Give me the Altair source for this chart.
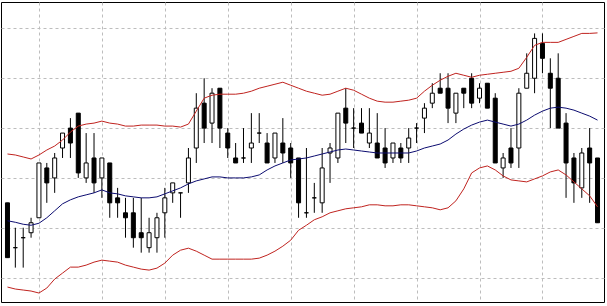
import altair as alt
import pandas as pd

# OHLC prices (one entry per candle)
opens = [1.2915, 1.2906, 1.2908, 1.2909, 1.2912, 1.2922, 1.2920, 1.2926, 1.2930, 1.2933,
         1.2920, 1.2924, 1.2920, 1.2923, 1.2916, 1.2913, 1.2913, 1.2909, 1.2906, 1.2908,
         1.2913, 1.2917, 1.2917, 1.2919, 1.2926, 1.2935, 1.2931, 1.2938, 1.2929, 1.2924,
         1.2924, 1.2926, 1.2929, 1.2927, 1.2924, 1.2927, 1.2926, 1.2924, 1.2913, 1.2916,
         1.2915, 1.2925, 1.2924, 1.2934, 1.2930, 1.2931, 1.2927, 1.2927, 1.2926, 1.2924,
         1.2926, 1.2926, 1.2930, 1.2932, 1.2935, 1.2938, 1.2938, 1.2933, 1.2938, 1.2940,
         1.2936, 1.2939, 1.2936, 1.2922, 1.2926, 1.2926, 1.2938, 1.2940, 1.2947, 1.2941,
         1.2940, 1.2931, 1.2924, 1.2918, 1.2926, 1.2924]
highs = [1.2915, 1.2910, 1.2910, 1.2912, 1.2923, 1.2923, 1.2925, 1.2929, 1.2932, 1.2933,
         1.2929, 1.2929, 1.2924, 1.2923, 1.2918, 1.2916, 1.2916, 1.2916, 1.2912, 1.2913,
         1.2918, 1.2919, 1.2917, 1.2926, 1.2937, 1.2940, 1.2938, 1.2938, 1.2930, 1.2927,
         1.2930, 1.2933, 1.2933, 1.2929, 1.2929, 1.2932, 1.2927, 1.2924, 1.2926, 1.2919,
         1.2926, 1.2927, 1.2933, 1.2938, 1.2934, 1.2934, 1.2934, 1.2933, 1.2930, 1.2927,
         1.2927, 1.2930, 1.2931, 1.2935, 1.2939, 1.2941, 1.2941, 1.2937, 1.2938, 1.2941,
         1.2939, 1.2939, 1.2937, 1.2925, 1.2930, 1.2938, 1.2945, 1.2949, 1.2949, 1.2944,
         1.2945, 1.2933, 1.2925, 1.2926, 1.2930, 1.2924]
lows = [1.2904, 1.2902, 1.2902, 1.2908, 1.2912, 1.2915, 1.2917, 1.2924, 1.2924, 1.2920,
        1.2919, 1.2917, 1.2916, 1.2912, 1.2912, 1.2908, 1.2906, 1.2905, 1.2905, 1.2905,
        1.2908, 1.2915, 1.2912, 1.2917, 1.2923, 1.2927, 1.2927, 1.2926, 1.2924, 1.2923,
        1.2923, 1.2923, 1.2927, 1.2923, 1.2923, 1.2923, 1.2920, 1.2912, 1.2912, 1.2913,
        1.2913, 1.2919, 1.2923, 1.2927, 1.2926, 1.2929, 1.2926, 1.2924, 1.2922, 1.2923,
        1.2923, 1.2923, 1.2927, 1.2929, 1.2934, 1.2937, 1.2931, 1.2931, 1.2934, 1.2934,
        1.2935, 1.2934, 1.2923, 1.2920, 1.2922, 1.2922, 1.2938, 1.2937, 1.2941, 1.2930,
        1.2930, 1.2916, 1.2915, 1.2916, 1.2915, 1.2911]
closes = [1.2904, 1.2906, 1.2908, 1.2911, 1.2923, 1.2919, 1.2924, 1.2929, 1.2927, 1.2921,
          1.2923, 1.2919, 1.2924, 1.2915, 1.2915, 1.2912, 1.2908, 1.2908, 1.2909, 1.2912,
          1.2916, 1.2919, 1.2917, 1.2924, 1.2934, 1.2930, 1.2937, 1.2930, 1.2926, 1.2923,
          1.2924, 1.2927, 1.2929, 1.2923, 1.2929, 1.2925, 1.2923, 1.2915, 1.2913, 1.2916,
          1.2922, 1.2926, 1.2933, 1.2931, 1.2930, 1.2929, 1.2929, 1.2924, 1.2923, 1.2927,
          1.2924, 1.2928, 1.2930, 1.2934, 1.2937, 1.2937, 1.2934, 1.2937, 1.2937, 1.2935,
          1.2938, 1.2934, 1.2923, 1.2924, 1.2923, 1.2937, 1.2941, 1.2948, 1.2944, 1.2938,
          1.2930, 1.2923, 1.2919, 1.2925, 1.2923, 1.2911]

# Bollinger bands
upper = [1.29248, 1.29246, 1.29242, 1.29238, 1.29246, 1.29256, 1.29264, 1.29276, 1.29292, 1.29304,
         1.29308, 1.29310, 1.29314, 1.29310, 1.29308, 1.29304, 1.29304, 1.29306, 1.29306, 1.29306,
         1.29304, 1.29304, 1.29302, 1.29308, 1.29334, 1.29360, 1.29366, 1.29368, 1.29368, 1.29368,
         1.29370, 1.29374, 1.29380, 1.29384, 1.29388, 1.29392, 1.29386, 1.29380, 1.29374, 1.29370,
         1.29366, 1.29368, 1.29374, 1.29380, 1.29376, 1.29368, 1.29360, 1.29354, 1.29352, 1.29352,
         1.29354, 1.29356, 1.29360, 1.29374, 1.29386, 1.29396, 1.29404, 1.29410, 1.29406, 1.29402,
         1.29406, 1.29408, 1.29410, 1.29412, 1.29414, 1.29420, 1.29442, 1.29466, 1.29472, 1.29472,
         1.29472, 1.29478, 1.29484, 1.29490, 1.29490, 1.29491]
middle = [1.29114, 1.29111, 1.29107, 1.29105, 1.29109, 1.29120, 1.29134, 1.29148, 1.29156, 1.29162,
          1.29166, 1.29170, 1.29176, 1.29170, 1.29168, 1.29164, 1.29162, 1.29160, 1.29160, 1.29162,
          1.29168, 1.29174, 1.29180, 1.29188, 1.29194, 1.29198, 1.29202, 1.29202, 1.29200, 1.29200,
          1.29200, 1.29202, 1.29206, 1.29216, 1.29224, 1.29230, 1.29236, 1.29238, 1.29240, 1.29244,
          1.29248, 1.29252, 1.29256, 1.29258, 1.29256, 1.29254, 1.29252, 1.29250, 1.29250, 1.29250,
          1.29250, 1.29250, 1.29254, 1.29260, 1.29264, 1.29268, 1.29276, 1.29288, 1.29298, 1.29306,
          1.29312, 1.29316, 1.29312, 1.29308, 1.29304, 1.29308, 1.29316, 1.29326, 1.29334, 1.29340,
          1.29342, 1.29340, 1.29336, 1.29330, 1.29324, 1.29316]
lower = [1.28981, 1.28977, 1.28975, 1.28973, 1.28969, 1.28979, 1.28997, 1.29009, 1.29021, 1.29021,
         1.29025, 1.29031, 1.29035, 1.29033, 1.29031, 1.29025, 1.29021, 1.29017, 1.29015, 1.29019,
         1.29029, 1.29045, 1.29055, 1.29059, 1.29053, 1.29045, 1.29037, 1.29037, 1.29037, 1.29037,
         1.29037, 1.29037, 1.29039, 1.29045, 1.29053, 1.29063, 1.29075, 1.29095, 1.29105, 1.29116,
         1.29122, 1.29130, 1.29134, 1.29138, 1.29140, 1.29142, 1.29146, 1.29146, 1.29144, 1.29144,
         1.29146, 1.29146, 1.29144, 1.29142, 1.29140, 1.29136, 1.29140, 1.29154, 1.29178, 1.29210,
         1.29220, 1.29224, 1.29216, 1.29204, 1.29196, 1.29194, 1.29192, 1.29198, 1.29204, 1.29212,
         1.29216, 1.29206, 1.29192, 1.29178, 1.29164, 1.29142]

grid_x = list(range(4, 76, 4))
grid_y = [1.2900, 1.2910, 1.2920, 1.2930, 1.2940, 1.2950]

df = pd.DataFrame({
    "i": list(range(len(opens))),
    "open": opens, "high": highs, "low": lows, "close": closes,
})
bands = pd.DataFrame({
    "i": list(range(len(upper))) * 3,
    "band": ["upper"] * len(upper) + ["middle"] * len(middle) + ["lower"] * len(lower),
    "value": upper + middle + lower,
})

xs = alt.Scale(domain=[-0.1875, 75.1875], nice=False, zero=False)
ys = alt.Scale(domain=[1.28951, 1.29553], nice=False, zero=False)

grid_axis_x = alt.Axis(values=grid_x, labels=False, ticks=False, domain=False, grid=True,
                       gridColor="#bdbdbd", gridDash=[3, 3], gridWidth=1, title=None)
grid_axis_y = alt.Axis(values=grid_y, labels=False, ticks=False, domain=False, grid=True,
                       gridColor="#bdbdbd", gridDash=[3, 3], gridWidth=1, title=None)

wicks = alt.Chart(df).mark_rule(color="black", strokeWidth=1, clip=True).encode(
    x=alt.X("i:Q", scale=xs, axis=grid_axis_x),
    y=alt.Y("low:Q", scale=ys, axis=grid_axis_y),
    y2="high:Q",
)

bodies = alt.Chart(df).mark_bar(size=4, stroke="black", strokeWidth=1, clip=True).encode(
    x=alt.X("i:Q", scale=xs),
    y=alt.Y("open:Q", scale=ys),
    y2="close:Q",
    fill=alt.condition("datum.close > datum.open", alt.value("white"), alt.value("black")),
)

lines = alt.Chart(bands).mark_line(strokeWidth=1, clip=True).encode(
    x=alt.X("i:Q", scale=xs),
    y=alt.Y("value:Q", scale=ys),
    color=alt.Color("band:N", scale=alt.Scale(domain=["upper", "middle", "lower"],
                                              range=["#c0231f", "#0c0c70", "#c0231f"]),
                    legend=None),
    detail="band:N",
)

chart = alt.layer(wicks, bodies, lines).properties(
    width=603, height=300,
    padding={"left": 1, "top": 2, "right": 3, "bottom": 4},
    autosize=alt.AutoSizeParams(type="none"),
    background="white",
).configure_view(stroke="black", strokeWidth=1)

chart.save("out.html", embed_options={"renderer": "svg", "actions": False})
